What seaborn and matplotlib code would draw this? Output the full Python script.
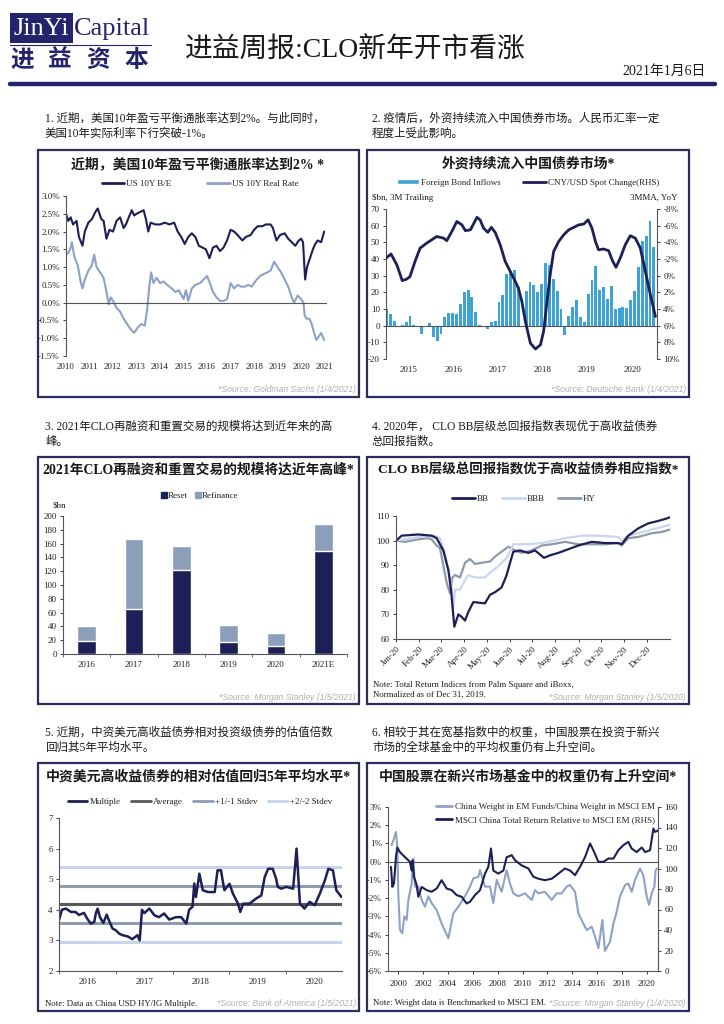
import numpy as np
import pandas as pd
import matplotlib
matplotlib.use("Agg")
import matplotlib.pyplot as plt
from matplotlib.patches import Rectangle, Patch
from matplotlib.lines import Line2D
from matplotlib.ticker import FuncFormatter
import seaborn as sns

# ---------------- data ----------------
# panel 1: US 10Y breakeven / real rate (year, %)
be_years = [2010.0, 2010.1, 2010.2, 2010.3, 2010.45, 2010.55, 2010.7, 2010.8, 2010.95, 2011.1, 2011.25, 2011.35,
            2011.5, 2011.6, 2011.72, 2011.85, 2012.0, 2012.15, 2012.3, 2012.45, 2012.55, 2012.7, 2012.8, 2012.9,
            2013.0, 2013.15, 2013.3, 2013.4, 2013.5, 2013.6, 2013.8, 2014.0, 2014.2, 2014.4, 2014.6, 2014.75,
            2014.9, 2015.05, 2015.2, 2015.35, 2015.5, 2015.65, 2015.8, 2015.95, 2016.1, 2016.25, 2016.4, 2016.55,
            2016.7, 2016.85, 2017.0, 2017.15, 2017.3, 2017.5, 2017.65, 2017.85, 2018.0, 2018.15, 2018.35, 2018.5,
            2018.7, 2018.8, 2018.95, 2019.1, 2019.3, 2019.45, 2019.6, 2019.75, 2019.9, 2020.0, 2020.08, 2020.17,
            2020.25, 2020.35, 2020.5, 2020.6, 2020.7, 2020.85, 2020.98]
be_vals = [2.5, 2.3, 2.4, 2.2, 2.3, 1.85, 1.6, 2.0, 2.25, 2.35, 2.55, 2.65,
           2.35, 2.3, 1.8, 2.05, 2.0, 2.3, 2.4, 2.1, 2.2, 2.45, 2.6, 2.45,
           2.5, 2.55, 2.6, 2.35, 2.0, 2.25, 2.2, 2.2, 2.25, 2.2, 2.25, 2.0,
           1.85, 1.65, 1.85, 1.95, 1.85, 1.6, 1.55, 1.5, 1.25, 1.55, 1.6, 1.45,
           1.55, 1.75, 2.05, 2.0, 1.9, 1.75, 1.85, 1.9, 2.05, 2.15, 2.15, 2.2,
           2.2, 2.1, 1.75, 1.9, 1.95, 1.8, 1.7, 1.6, 1.75, 1.8, 1.7, 0.65,
           1.0, 1.2, 1.5, 1.65, 1.75, 1.7, 2.0]
rr_years = [2010.0, 2010.1, 2010.2, 2010.25, 2010.35, 2010.5, 2010.62, 2010.7, 2010.8, 2010.95, 2011.1, 2011.2,
            2011.3, 2011.45, 2011.6, 2011.72, 2011.82, 2011.9, 2012.0, 2012.15, 2012.3, 2012.45, 2012.6, 2012.75,
            2012.9, 2013.05, 2013.2, 2013.35, 2013.45, 2013.55, 2013.62, 2013.72, 2013.85, 2014.0, 2014.15, 2014.3,
            2014.5, 2014.65, 2014.8, 2015.0, 2015.1, 2015.2, 2015.35, 2015.5, 2015.7, 2015.85, 2016.0, 2016.12,
            2016.25, 2016.4, 2016.55, 2016.7, 2016.85, 2017.0, 2017.15, 2017.3, 2017.45, 2017.6, 2017.75, 2017.9,
            2018.05, 2018.25, 2018.4, 2018.55, 2018.7, 2018.85, 2019.0, 2019.15, 2019.3, 2019.45, 2019.6, 2019.7,
            2019.85, 2020.0, 2020.1, 2020.15, 2020.22, 2020.35, 2020.45, 2020.55, 2020.65, 2020.75, 2020.85, 2020.98]
rr_vals = [1.35, 1.4, 1.55, 1.7, 1.3, 1.05, 0.6, 0.4, 0.65, 0.9, 1.05, 1.35,
           1.0, 0.85, 0.7, 0.3, -0.05, 0.15, 0.05, -0.15, -0.25, -0.45, -0.6, -0.75,
           -0.85, -0.7, -0.6, -0.65, -0.2, 0.5, 0.85, 0.55, 0.7, 0.55, 0.6, 0.5,
           0.4, 0.3, 0.35, 0.1, 0.35, 0.05, 0.4, 0.5, 0.55, 0.65, 0.75, 0.55,
           0.3, 0.15, 0.05, 0.05, 0.1, 0.55, 0.4, 0.5, 0.45, 0.45, 0.5, 0.45,
           0.6, 0.75, 0.8, 0.85, 0.9, 1.15, 1.0, 0.85, 0.65, 0.45, 0.15, 0.0,
           0.2, 0.1, 0.0, -0.35, -0.45, -0.45, -0.6, -0.85, -1.05, -0.95, -0.85, -1.05]

# panel 2: foreign bond inflows ($bn, 3M trailing, one bar per month from 2015) and CNY/USD (RHS, %)
bond_inflows = [10, 7, 3, 0, 0.5, 2, 6, 0.5, 0, -5, 0, 1.5, -7, -9.5, -5, 5, 7.5, 7.5, 7, 13,
                20, 21.5, 17, 8, 0.5, -1, -2, 2, 3, 14, 18.5, 31, 32.5, 33.5, 23, -1, 21, 26, 24.5, 20,
                25, 37.5, 36.5, 28, 21, 10, -5.5, 6, 11, 15.5, 5, 2, 19, 27.5, 35.5, 21.5, 23, 16, 24, 10,
                10.5, 11, 10.5, 15.5, 21, 35, 51, 54, 62.5, 47]
cny_pos = [-0.2, 1.1, 2.6, 4.0, 5.2, 6.0, 7.3, 8.6, 10.3, 11.6, 12.9, 14.7, 15.5, 16.8, 18.1, 19.4, 20.3,
           21.6, 23.3, 24.1, 25.0, 26.1, 27.0, 28.0, 29.3, 30.6, 31.9, 33.2, 34.0, 34.9, 35.8, 37.1, 38.4,
           39.7, 40.5, 41.4, 42.2, 43.1, 44.4, 45.7, 47.0, 48.3, 49.6, 50.9, 52.0, 53.0, 53.9, 54.7, 56.0,
           57.3, 58.2, 59.2, 60.3, 61.6, 62.9, 64.2, 65.5, 66.8, 68.1, 69.4]
cny_vals = [-2.1, -2.6, -1.3, 0.6, 0.4, 0.1, -1.7, -3.3, -3.9, -4.3, -4.7, -4.5, -4.2, -5.3, -6.5, -6.1, -5.4,
            -5.5, -7.0, -6.7, -5.7, -5.2, -5.8, -5.2, -3.7, -1.7, -0.5, 0.7, 1.5, 3.1, 5.5, 8.1, 8.8,
            8.3, 6.7, 3.1, -0.1, -2.9, -4.1, -4.9, -5.5, -5.8, -6.1, -6.2, -6.7, -5.7, -4.1, -3.1, -3.2,
            -3.0, -1.9, -1.0, -2.1, -3.7, -4.8, -4.5, -3.3, -0.5, 2.3, 4.9]
p2_year_labels = ["2015", "2016", "2017", "2018", "2019", "2020"]
p2_year_pos = [5.6, 17.2, 28.7, 40.3, 51.7, 63.4]

# panel 3: CLO refi / reset volume ($bn)
clo_years = ["2016", "2017", "2018", "2019", "2020", "2021E"]
clo_reset = [19, 65, 122, 17, 11, 150]
clo_refi = [21, 102, 34, 25, 19, 39]

# panel 4: total return indices 2020 (day of year, index)
bb_day = [0, 7.6, 29.8, 47.6, 54.3, 63.2, 69.9, 73.5, 77.9, 83.3, 87.7, 92.2, 96.6, 103.3, 118.9, 125.6, 132.2,
          141.1, 147.8, 151.4, 156.7, 165.6, 176.8, 185.7, 197.7, 205.7, 216.8, 230.2, 243.5, 261.4, 279.2,
          297, 301.4, 310.3, 314.8, 323.7, 337, 350.4, 361.5, 366]
bb_vals = [100, 102, 102.5, 102, 101, 96, 88, 80, 65, 70, 69, 67.5, 71, 75, 74.5, 78, 79,
           81, 86, 90, 95.5, 96, 95, 96, 93, 94, 95, 96.5, 98, 99.5, 99,
           99, 98.5, 102, 103, 105, 107, 108, 109, 109.5]
bbb_day = [0, 29.8, 52.0, 58.7, 65.4, 72.1, 76.6, 78.8, 85.5, 92.2, 96.6, 105.5, 118.9, 125.6, 134.5, 141.1,
           147.8, 154.5, 156.7, 176.8, 194.6, 203.5, 225.8, 248, 270.3, 297, 301.4, 310.3, 323.7, 341.5,
           354.9, 366]
bbb_vals = [100, 101.5, 102, 101, 95, 85, 73, 80, 80, 84, 86, 85, 85, 87, 89, 91,
            93, 97, 98.5, 98.5, 99, 99.5, 101, 102, 102, 101.5, 100, 102, 103, 104.5,
            105.5, 106.5]
hy_day = [0, 12, 29.8, 43.2, 47.6, 54.3, 58.7, 63.2, 67.6, 72.1, 75.2, 78.8, 85.5, 92.2, 98.9, 105.5, 114.4,
          125.6, 132.2, 141.1, 150, 158.9, 167.8, 181.2, 194.6, 207.9, 225.8, 243.5, 261.4, 279.2, 297,
          301.4, 310.3, 323.7, 341.5, 354.9, 366]
hy_vals = [100, 99.5, 100.5, 101, 100.5, 98, 97, 90, 83, 78.5, 85, 86, 85, 91, 92.5, 90.5, 91,
           91.5, 93.5, 95.5, 97.5, 96, 95, 96, 98, 98.5, 99.5, 98.5, 98.5, 98.5, 99,
           98, 101, 101.5, 103, 103.5, 104.5]
month_days = [0, 31, 60, 91, 121, 152, 182, 213, 244, 274, 305, 335]
month_labels = ["Jan-20", "Feb-20", "Mar-20", "Apr-20", "May-20", "Jun-20",
                "Jul-20", "Aug-20", "Sep-20", "Oct-20", "Nov-20", "Dec-20"]

# panel 5: China USD HY/IG multiple
mult_years = [2016.0, 2016.05, 2016.12, 2016.21, 2016.29, 2016.35, 2016.44, 2016.5, 2016.56, 2016.62, 2016.65,
              2016.68, 2016.72, 2016.78, 2016.84, 2016.88, 2016.94, 2017.0, 2017.06, 2017.12, 2017.21, 2017.29,
              2017.38, 2017.42, 2017.46, 2017.5, 2017.59, 2017.68, 2017.76, 2017.85, 2017.94, 2018.06, 2018.15,
              2018.24, 2018.29, 2018.35, 2018.38, 2018.41, 2018.47, 2018.53, 2018.62, 2018.74, 2018.79, 2018.85,
              2018.91, 2019.0, 2019.06, 2019.15, 2019.19, 2019.24, 2019.35, 2019.47, 2019.56, 2019.62, 2019.68,
              2019.76, 2019.82, 2019.85, 2019.91, 2020.0, 2020.12, 2020.18, 2020.24, 2020.32, 2020.41, 2020.5,
              2020.59, 2020.68, 2020.74, 2020.82, 2020.88, 2020.97]
mult_vals = [3.66, 4.0, 4.04, 3.93, 3.93, 3.83, 3.9, 3.7, 3.55, 3.6, 3.9,
             4.04, 3.76, 3.57, 3.84, 3.65, 3.39, 3.33, 3.22, 3.17, 3.13, 3.04,
             3.17, 3.0, 4.0, 3.89, 4.04, 3.82, 3.76, 3.88, 3.68, 3.76, 3.76,
             3.55, 4.0, 4.1, 4.86, 4.42, 5.18, 4.64, 4.58, 4.58, 5.29, 5.29,
             4.64, 4.85, 4.53, 4.2, 3.93, 4.2, 4.2, 4.37, 4.47, 5.07, 5.34,
             5.34, 5.02, 4.75, 4.69, 4.75, 4.69, 6.0, 4.2, 4.04, 4.26, 4.15,
             4.53, 4.97, 5.34, 5.29, 4.64, 4.42]
mult_average = 4.18
mult_sd1 = [4.79, 3.57]
mult_sd2 = [5.41, 2.95]

# panel 6: China weight ratio (LHS, %) and MSCI China relative return (RHS)
wt_years = [1999.46, 1999.6, 1999.81, 1999.92, 2000.0, 2000.13, 2000.32, 2000.48, 2000.67, 2000.81, 2001.07,
            2001.21, 2001.34, 2001.61, 2001.88, 2002.15, 2002.42, 2002.68, 2003.09, 2003.49, 2004.03, 2004.43,
            2004.83, 2005.37, 2005.77, 2006.04, 2006.44, 2006.58, 2006.98, 2007.38, 2007.65, 2007.92, 2008.32,
            2008.72, 2008.99, 2009.26, 2009.66, 2010.2, 2010.74, 2011.01, 2011.28, 2011.81, 2012.35, 2012.75,
            2013.15, 2013.56, 2013.83, 2014.23, 2014.5, 2014.9, 2015.17, 2015.57, 2015.84, 2016.11, 2016.43,
            2016.64, 2017.05, 2017.32, 2017.58, 2017.85, 2018.26, 2018.52, 2018.79, 2019.06, 2019.46, 2019.73,
            2020.0, 2020.19, 2020.4, 2020.62, 2020.72, 2020.83]
wt_vals = [0.9, 1.17, 1.63, 0.8, -1.74, -3.75, -3.93, -3.0, -3.2, -2.1, -1.2,
           0.17, -1.37, -1.37, -2.1, -2.47, -1.9, -2.27, -2.66, -3.4, -4.2, -2.84,
           -2.47, -1.9, -1.37, -0.92, -0.83, -0.47, -1.37, -1.37, -2.27, -1.0, -1.65,
           -0.47, -1.2, -1.74, -1.9, -1.74, -2.1, -1.56, -1.74, -1.65, -2.1, -1.74,
           -1.74, -1.37, -1.28, -1.65, -2.84, -3.4, -3.75, -3.57, -4.1, -4.75, -3.2,
           -4.9, -4.38, -3.4, -2.75, -1.9, -1.28, -1.2, -1.65, -1.0, -0.38, -0.75,
           -1.9, -2.37, -1.74, -1.37, -0.47, -0.38]
rel_years = [1999.41, 1999.52, 1999.65, 1999.81, 1999.92, 2000.13, 2000.54, 2000.94, 2001.07, 2001.15, 2001.26,
             2001.48, 2001.61, 2001.88, 2002.28, 2002.68, 2003.09, 2003.49, 2003.89, 2004.3, 2004.7, 2005.1,
             2005.5, 2005.77, 2006.17, 2006.58, 2006.98, 2007.25, 2007.46, 2007.65, 2008.05, 2008.46, 2008.72,
             2009.13, 2009.4, 2009.93, 2010.47, 2010.87, 2011.28, 2011.81, 2012.35, 2012.89, 2013.42, 2013.83,
             2014.23, 2014.63, 2015.03, 2015.44, 2015.7, 2016.11, 2016.51, 2016.91, 2017.32, 2017.72, 2018.12,
             2018.52, 2018.79, 2019.19, 2019.6, 2019.87, 2020.27, 2020.54, 2020.67, 2020.89]
rel_vals = [101.6, 82.1, 85.4, 111, 120.5, 116, 111, 106.5, 98, 108, 92,
            83.8, 72.4, 82, 78.9, 77.3, 80.5, 88.6, 80.5, 78.9, 74, 72.4,
            65.9, 67.5, 74, 78.9, 95, 101.6, 119.5, 98, 95, 98, 111,
            113, 108, 103, 100, 92, 90, 88.6, 90, 95, 100, 98,
            93.5, 101.6, 111, 124.4, 117.9, 106.5, 106.5, 109.7, 109.7, 117.9, 122.7,
            126, 119.5, 116, 120.5, 116, 117.9, 139, 135.7, 137]

# ---------------- styling ----------------
NAVY = "#24246c"
BOX = "#2d2d5c"
DARK = "#1d1f57"
LIGHT = "#8da2c6"
BAR = "#3fa3d5"
REFI = "#8c9fba"
BBB_C = "#c9d6f0"
HY_C = "#8e9aa8"
AVG_C = "#555a5e"
SD1_C = "#8f9db0"
SD2_C = "#c6d4ee"
SRC_C = "#b0b0b0"
TXT = "#1a1a1a"

sns.set_theme(style="ticks")
FAM = ["Liberation Serif", "Noto Sans CJK SC", "DejaVu Sans"]
plt.rcParams["font.family"] = FAM
plt.rcParams["axes.unicode_minus"] = False

W, H = 724, 1024
fig = plt.figure(figsize=(7.24, 10.24), dpi=100)
fig.patch.set_facecolor("white")


def px_axes(x0, y0, x1, y1):
    return fig.add_axes([x0 / W, 1 - y1 / H, (x1 - x0) / W, (y1 - y0) / H])


def ftext(x, y, s, **kw):
    kw.setdefault("color", TXT)
    return fig.text(x / W, 1 - y / H, s, **kw)


def box(x0, y0, x1, y1, **kw):
    fig.add_artist(Rectangle((x0 / W, 1 - y1 / H), (x1 - x0) / W, (y1 - y0) / H,
                             transform=fig.transFigure, **kw))


def hline(x0, x1, y, **kw):
    fig.add_artist(Line2D([x0 / W, x1 / W], [1 - y / H, 1 - y / H], transform=fig.transFigure, **kw))


def style(ax, left=True, bottom=True, right=False):
    for s in ["top", "right", "left", "bottom"]:
        ax.spines[s].set_visible(False)
    for s, on in [("left", left), ("bottom", bottom), ("right", right)]:
        if on:
            ax.spines[s].set_visible(True)
            ax.spines[s].set_color("#555555")
            ax.spines[s].set_linewidth(0.8)
    ax.tick_params(labelsize=6.5, colors="#222222", length=2.5, width=0.6, pad=2)
    ax.set_facecolor("none")
    ax.set_xlabel("")
    ax.set_ylabel("")


def legend(ax, handles, labels, x, y, ncol, **kw):
    kw.setdefault("handletextpad", 0.2)
    leg = ax.legend(handles, labels, loc="center", bbox_to_anchor=(x / W, 1 - y / H),
                    bbox_transform=fig.transFigure, ncol=ncol, frameon=False,
                    prop={"family": FAM, "size": 6.5}, **kw)
    for t in leg.get_texts():
        t.set_color("#222222")
    return leg


# ---------------- header ----------------
box(10, 13, 73, 43, facecolor=NAVY, edgecolor="none")
ftext(13, 29, "JinYi", color="white", fontsize=19, va="center", ha="left", family="Liberation Serif")
ftext(74, 29, "Capital", color=NAVY, fontsize=19, va="center", ha="left", family="Liberation Serif")
hline(10, 151, 45, color=NAVY, lw=0.8)
for i, ch in enumerate("进益资本"):
    ftext(22 + i * 38, 60, ch, color=NAVY, fontsize=17, weight="bold", ha="center", va="center",
          family="Noto Sans CJK SC")
ftext(185, 51, "进益周报:CLO新年开市看涨", fontsize=20, ha="left", va="center")
ftext(706, 71, "2021年1月6日", fontsize=10, ha="right", va="center")
hline(10, 715, 84, color=NAVY, lw=3.2)

# ---------------- captions ----------------
captions = [
    (45, 119, "1. 近期，美国10年盈亏平衡通胀率达到2%。与此同时，"), (45, 134, "美国10年实际利率下行突破-1%。"),
    (372, 119, "2. 疫情后，外资持续流入中国债券市场。人民币汇率一定"), (372, 134, "程度上受此影响。"),
    (45, 427, "3. 2021年CLO再融资和重置交易的规模将达到近年来的高"), (45, 442, "峰。"),
    (372, 427, "4. 2020年， CLO BB层级总回报指数表现优于高收益债券"), (372, 442, "总回报指数。"),
    (45, 733, "5. 近期，中资美元高收益债券相对投资级债券的估值倍数"), (45, 748, "回归其5年平均水平。"),
    (372, 733, "6. 相较于其在宽基指数中的权重，中国股票在投资于新兴"), (372, 748, "市场的全球基金中的平均权重仍有上升空间。"),
]
for x, y, s in captions:
    ftext(x, y, s, fontsize=8.3, ha="left", va="center")

# ---------------- panel boxes & titles ----------------
panels = [(38, 150, 359, 397), (367, 150, 689, 397),
          (38, 457, 359, 704), (367, 457, 689, 704),
          (38, 763, 359, 1011), (367, 763, 689, 1011)]
for p in panels:
    box(*p, facecolor="none", edgecolor=BOX, lw=1.6)

titles = ["近期，美国10年盈亏平衡通胀率达到2% *", "外资持续流入中国债券市场*",
          "2021年CLO再融资和重置交易的规模将达近年高峰*", "CLO BB层级总回报指数优于高收益债券相应指数*",
          "中资美元高收益债券的相对估值回归5年平均水平*", "中国股票在新兴市场基金中的权重仍有上升空间*"]
title_pos = [(198, 164, 10), (528, 164, 10), (198, 470, 9.9), (528, 470, 9.7), (198, 777, 10), (528, 777, 10)]
for (x, y, fs), s in zip(title_pos, titles):
    ftext(x, y, s, fontsize=fs, weight="bold", ha="center", va="center")

src_kw = dict(fontsize=6.2, style="italic", color=SRC_C, ha="right", va="center", family="Liberation Sans")
ftext(356, 390, "*Source: Goldman Sachs (1/4/2021)", **src_kw)
ftext(686, 390, "*Source: Deutsche Bank (1/4/2021)", **src_kw)
ftext(356, 697, "*Source: Morgan Stanley (1/5/2021)", **src_kw)
ftext(686, 697, "*Source: Morgan Stanley (1/5/2020)", **src_kw)
ftext(356, 1004, "*Source: Bank of America (1/5/2021)", **src_kw)
ftext(686, 1004, "*Source: Morgan Stanley (1/4/2020)", **src_kw)

# ---------------- panel 1 ----------------
ax1 = px_axes(66, 196, 327, 356)
sns.lineplot(x=be_years, y=be_vals, ax=ax1, color=DARK, lw=1.5)
sns.lineplot(x=rr_years, y=rr_vals, ax=ax1, color=LIGHT, lw=1.5)
style(ax1, bottom=False)
ax1.axhline(0, color="#555555", lw=0.8)
ax1.set_xlim(2010, 2021.1)
ax1.set_ylim(-1.5, 3.0)
ax1.set_yticks(np.arange(-1.5, 3.01, 0.5))
ax1.yaxis.set_major_formatter(FuncFormatter(lambda v, p: f"{v:.1f}%"))
ax1.set_xticks(range(2010, 2022))
ax1.tick_params(axis="x", length=0, pad=5)
legend(ax1, [Line2D([], [], color=DARK, lw=2), Line2D([], [], color=LIGHT, lw=2)],
       ["US 10Y B/E", "US 10Y Real Rate"], 200, 184, 2, columnspacing=4, handlelength=2.5)

# ---------------- panel 2 ----------------
ax2 = px_axes(386, 209, 657, 359)
sns.barplot(x=list(range(len(bond_inflows))), y=bond_inflows, ax=ax2, color=BAR, width=0.75,
            saturation=1, linewidth=0)
style(ax2, bottom=False)
ax2.axhline(0, color="#555555", lw=0.8)
ax2.set_ylim(-20, 70)
ax2.set_yticks(range(-20, 71, 10))
ax2.set_xticks(p2_year_pos)
ax2.set_xticklabels(p2_year_labels)
ax2.tick_params(axis="x", length=0, pad=5)
ax2r = ax2.twinx()
sns.lineplot(x=cny_pos, y=cny_vals, ax=ax2r, color=DARK, lw=2.0)
style(ax2r, left=False, bottom=False, right=True)
ax2r.set_ylim(10, -8)
ax2r.set_yticks(range(-8, 11, 2))
ax2r.yaxis.set_major_formatter(FuncFormatter(lambda v, p: f"{v:.0f}%"))
ax2.set_xlim(-0.2, 69.8)
ftext(372, 198, "$bn, 3M Trailing", fontsize=6.5, ha="left", va="center")
ftext(677, 198, "3MMA, YoY", fontsize=6.5, ha="right", va="center")
legend(ax2r, [Patch(facecolor=BAR), Line2D([], [], color=DARK, lw=2)],
       ["Foreign Bond Inflows", "CNY/USD Spot Change(RHS)"], 528, 183, 2, columnspacing=2.5,
       handlelength=2.5, handleheight=0.5)

# ---------------- panel 3 ----------------
df3 = pd.DataFrame({"year": clo_years, "Reset": clo_reset, "Refinance": clo_refi})
df3["Total"] = df3["Reset"] + df3["Refinance"]
ax3 = px_axes(63, 516, 347, 654)
sns.barplot(data=df3, x="year", y="Total", ax=ax3, color=REFI, width=0.4, saturation=1)
sns.barplot(data=df3, x="year", y="Reset", ax=ax3, color=DARK, width=0.4, saturation=1)
style(ax3)
ax3.set_xlim(-0.5, 5.5)
ax3.set_ylim(0, 200)
ax3.set_yticks(range(0, 201, 20))
ax3.set_xticks(np.arange(-0.5, 5.6, 1.0), minor=True)
ax3.tick_params(axis="x", which="major", length=0, pad=5)
ax3.tick_params(axis="x", which="minor", length=2.5, width=0.6, color="#555555")
ftext(53, 505, "$bn", fontsize=6.5, ha="left", va="center")
legend(ax3, [Line2D([], [], marker="s", ls="", color=DARK, ms=4), Line2D([], [], marker="s", ls="", color=REFI, ms=4)],
       ["Reset", "Refinance"], 200, 496, 2, columnspacing=0.8, handlelength=0.6, handletextpad=0.1)

# ---------------- panel 4 ----------------
ax4 = px_axes(396, 516, 670, 639)
sns.lineplot(x=hy_day, y=hy_vals, ax=ax4, color=HY_C, lw=1.6)
sns.lineplot(x=bbb_day, y=bbb_vals, ax=ax4, color=BBB_C, lw=1.6)
sns.lineplot(x=bb_day, y=bb_vals, ax=ax4, color=DARK, lw=1.6)
style(ax4)
ax4.set_xlim(0, 366)
ax4.set_ylim(60, 110)
ax4.set_yticks(range(60, 111, 10))
ax4.set_xticks(month_days)
ax4.set_xticklabels(month_labels, rotation=45, ha="right", rotation_mode="anchor")
legend(ax4, [Line2D([], [], color=DARK, lw=2), Line2D([], [], color=BBB_C, lw=2), Line2D([], [], color=HY_C, lw=2)],
       ["BB", "BBB", "HY"], 524, 499, 3, columnspacing=1.5, handlelength=2.5)
ftext(373, 685, "Note: Total Return Indices from Palm Square and iBoxx,", fontsize=6.3, ha="left", va="center")
ftext(373, 695, "Normalized as of Dec 31, 2019.", fontsize=6.3, ha="left", va="center")

# ---------------- panel 5 ----------------
ax5 = px_axes(59, 818, 342, 971)
for lv in mult_sd2:
    ax5.axhline(lv, color=SD2_C, lw=2.2)
for lv in mult_sd1:
    ax5.axhline(lv, color=SD1_C, lw=2.2)
ax5.axhline(mult_average, color=AVG_C, lw=2.2)
sns.lineplot(x=mult_years, y=mult_vals, ax=ax5, color=DARK, lw=1.8)
style(ax5)
ax5.set_xlim(2016.0, 2020.98)
ax5.set_ylim(2, 7)
ax5.set_yticks(range(2, 8))
ax5.set_xticks([2016.5, 2017.5, 2018.5, 2019.5, 2020.5])
ax5.set_xticklabels(["2016", "2017", "2018", "2019", "2020"])
ax5.set_xticks(range(2016, 2021), minor=True)
ax5.tick_params(axis="x", which="major", length=0, pad=5)
ax5.tick_params(axis="x", which="minor", length=2.5, width=0.6, color="#555555")
legend(ax5, [Line2D([], [], color=DARK, lw=2), Line2D([], [], color=AVG_C, lw=2),
             Line2D([], [], color=SD1_C, lw=2), Line2D([], [], color=SD2_C, lw=2)],
       ["Multiple", "Average", "+1/-1 Stdev", "+2/-2 Stdev"], 200, 802, 4, columnspacing=1.2, handlelength=2.2)
ftext(45, 1004, "Note: Data as China USD HY/IG Multiple.", fontsize=6.3, ha="left", va="center")

# ---------------- panel 6 ----------------
ax6 = px_axes(388, 807, 658, 971)
sns.lineplot(x=wt_years, y=wt_vals, ax=ax6, color=LIGHT, lw=1.5)
style(ax6)
ax6.axhline(0, color="#555555", lw=0.8)
ax6.set_ylim(-6, 3)
ax6.set_yticks(range(-6, 4))
ax6.yaxis.set_major_formatter(FuncFormatter(lambda v, p: f"{v:.0f}%"))
ax6r = ax6.twinx()
sns.lineplot(x=rel_years, y=rel_vals, ax=ax6r, color=DARK, lw=1.5)
style(ax6r, left=False, bottom=False, right=True)
ax6r.set_ylim(0, 160)
ax6r.set_yticks(range(0, 161, 20))
ax6.set_xlim(1999.17, 2020.91)
ax6.set_xticks(range(2000, 2021, 2))
ax6.tick_params(axis="x", pad=4)
leg6 = ax6r.legend([Line2D([], [], color=LIGHT, lw=2), Line2D([], [], color=DARK, lw=2)],
                   ["China Weight in EM Funds/China Weight in MSCI EM",
                    "MSCI China Total Return Relative to MSCI EM (RHS)"],
                   loc="upper left", bbox_to_anchor=(428 / W, 1 - 795 / H), bbox_transform=fig.transFigure,
                   frameon=False, prop={"family": FAM, "size": 6.5}, handlelength=1.8, handletextpad=0.3,
                   labelspacing=0.5)
ftext(373, 1003, "Note: Weight data is Benchmarked to MSCI EM.", fontsize=6.3, ha="left", va="center")

fig.savefig("out.png", dpi=100)
